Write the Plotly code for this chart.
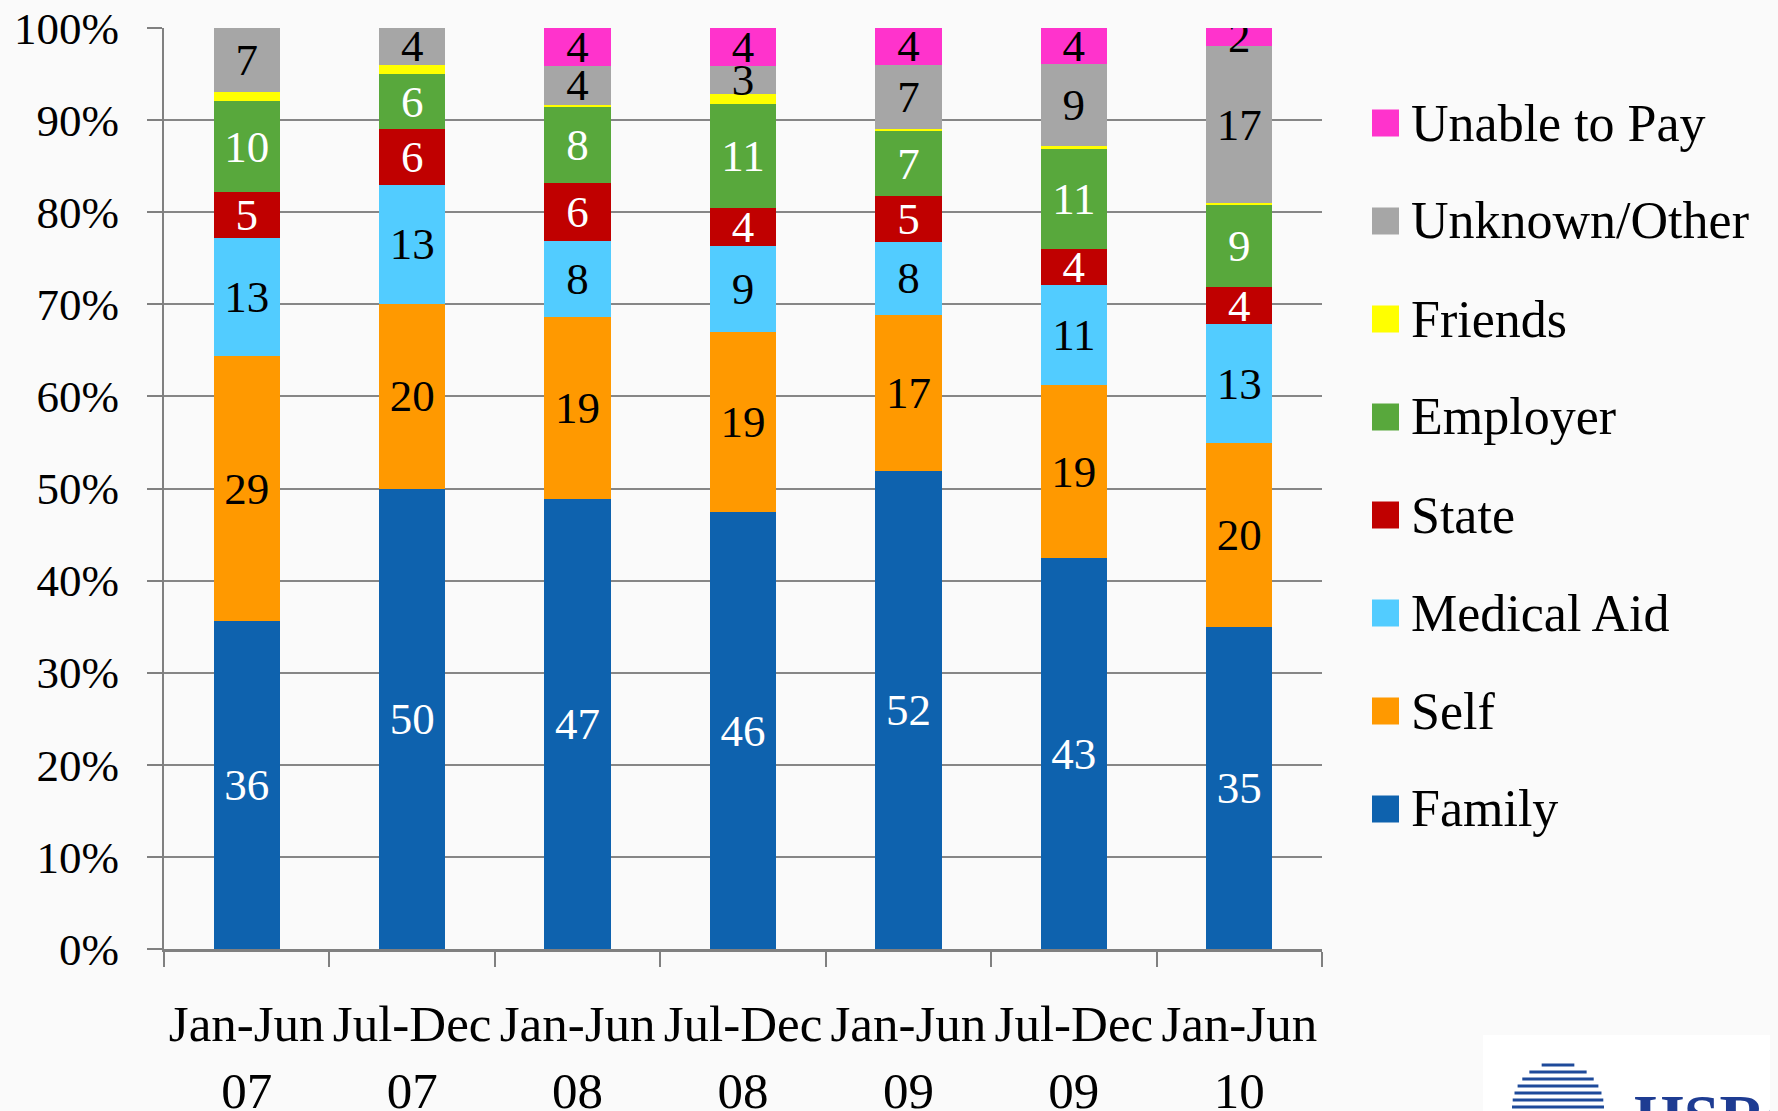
import plotly.graph_objects as go

periods = ["Jan-Jun<br>07", "Jul-Dec<br>07", "Jan-Jun<br>08", "Jul-Dec<br>08",
           "Jan-Jun<br>09", "Jul-Dec<br>09", "Jan-Jun<br>10"]

family = [36, 50, 47, 46, 52, 43, 35]
self_pay = [29, 20, 19, 19, 17, 19, 20]
medical_aid = [13, 13, 8, 9, 8, 11, 13]
state = [5, 6, 6, 4, 5, 4, 4]
employer = [10, 6, 8, 11, 7, 11, 9]
friends = [1, 1, 0.2, 1, 0.25, 0.3, 0.2]
unknown_other = [7, 4, 4, 3, 7, 9, 17]
unable_to_pay = [0, 0, 4, 4, 4, 4, 2]

y_ticks = [0, 10, 20, 30, 40, 50, 60, 70, 80, 90, 100]

# name, values, bar colour, label colour (None = no labels)
series = [
    ("Family", family, "#0E62AE", "white"),
    ("Self", self_pay, "#FF9900", "black"),
    ("Medical Aid", medical_aid, "#52CCFF", "black"),
    ("State", state, "#C00000", "white"),
    ("Employer", employer, "#58A83C", "white"),
    ("Friends", friends, "#FFFF00", None),
    ("Unknown/Other", unknown_other, "#A6A6A6", "black"),
    ("Unable to Pay", unable_to_pay, "#FF33CC", "black"),
]

FONT = "Liberation Serif"
BG = "#FAFAFA"
W, H = 1778, 1111
OFF = 8  # page body margin
L, R, T, B = 164 - OFF, 456 + OFF, 28 - OFF, 162 + OFF


# window pixel -> paper coordinates
def px_x(x):
    return (x - OFF - L) / (W - L - R)


def px_y(y):
    return (H - B - (y - OFF)) / (H - T - B)


fig = go.Figure()
for name, vals, color, txtcolor in series:
    if txtcolor:
        text = [f"{v:g}" if v else "" for v in vals]
    else:
        text = None
    fig.add_trace(go.Bar(
        x=periods, y=vals, name=name,
        marker=dict(color=color, line=dict(width=0)),
        text=text, textposition="inside" if text else "none",
        insidetextanchor="middle", textangle=0,
        textfont=dict(family=FONT, size=45, color=txtcolor or "black"),
        showlegend=False,
    ))

shapes = []
annotations = []
# legend drawn by hand so the swatches can be large
for i, (name, vals, color, txtcolor) in enumerate(reversed(series)):
    yc = 123 + i * 98
    shapes.append(dict(type="rect", xref="paper", yref="paper",
                       x0=px_x(1372), x1=px_x(1399),
                       y0=px_y(yc + 13.5), y1=px_y(yc - 13.5),
                       fillcolor=color, line=dict(width=0)))
    annotations.append(dict(text=name, xref="paper", yref="paper",
                            x=px_x(1409), y=px_y(yc), xanchor="left", yanchor="middle",
                            showarrow=False, font=dict(family=FONT, size=52, color="black")))

# partial logo in the bottom right corner
shapes.append(dict(type="rect", xref="paper", yref="paper",
                   x0=px_x(1483), x1=px_x(1800), y0=px_y(1120), y1=px_y(1035),
                   fillcolor="white", line=dict(width=0), layer="below"))
cx, cy, rad = 1558, 1108, 46
for k in range(7):
    yy = cy - rad + 3 + k * 7
    half = (rad ** 2 - (yy - cy) ** 2) ** 0.5
    shapes.append(dict(type="line", xref="paper", yref="paper",
                       x0=px_x(cx - half), x1=px_x(cx + half),
                       y0=px_y(yy), y1=px_y(yy),
                       line=dict(color="#1E4A9A", width=3)))
annotations.append(dict(text="<b>HSRC</b>", xref="paper", yref="paper",
                        x=px_x(1632), y=px_y(1080), xanchor="left", yanchor="top",
                        showarrow=False, font=dict(family=FONT, size=64, color="#1E3C92")))

fig.update_layout(
    template="none",
    width=W, height=H, autosize=False,
    margin=dict(l=L, r=R, t=T, b=B, pad=0),
    paper_bgcolor=BG, plot_bgcolor=BG,
    barmode="stack", barnorm="percent", bargap=0.6,
    uniformtext=dict(minsize=45, mode="show"),
    showlegend=False,
    shapes=shapes, annotations=annotations,
    xaxis=dict(type="category", tickson="boundaries", ticks="outside", ticklen=15,
               tickwidth=2, tickcolor="#808080", showline=True, linecolor="#808080",
               linewidth=3, showgrid=False, ticklabelstandoff=28, tickangle=0,
               ticklabeloverflow="allow",
               tickfont=dict(family=FONT, size=51, color="black")),
    yaxis=dict(range=[0, 100], tickvals=y_ticks, ticktext=[f"{v}%" for v in y_ticks],
               ticks="outside", ticklen=15, tickwidth=2, tickcolor="#808080",
               showline=True, linecolor="#808080", linewidth=2,
               showgrid=True, gridcolor="#868686", gridwidth=2, zeroline=False,
               ticklabelstandoff=19, ticklabeloverflow="allow",
               tickfont=dict(family=FONT, size=45, color="black")),
)

fig.write_html("out.html", post_script=f"document.body.style.background='{BG}';")
